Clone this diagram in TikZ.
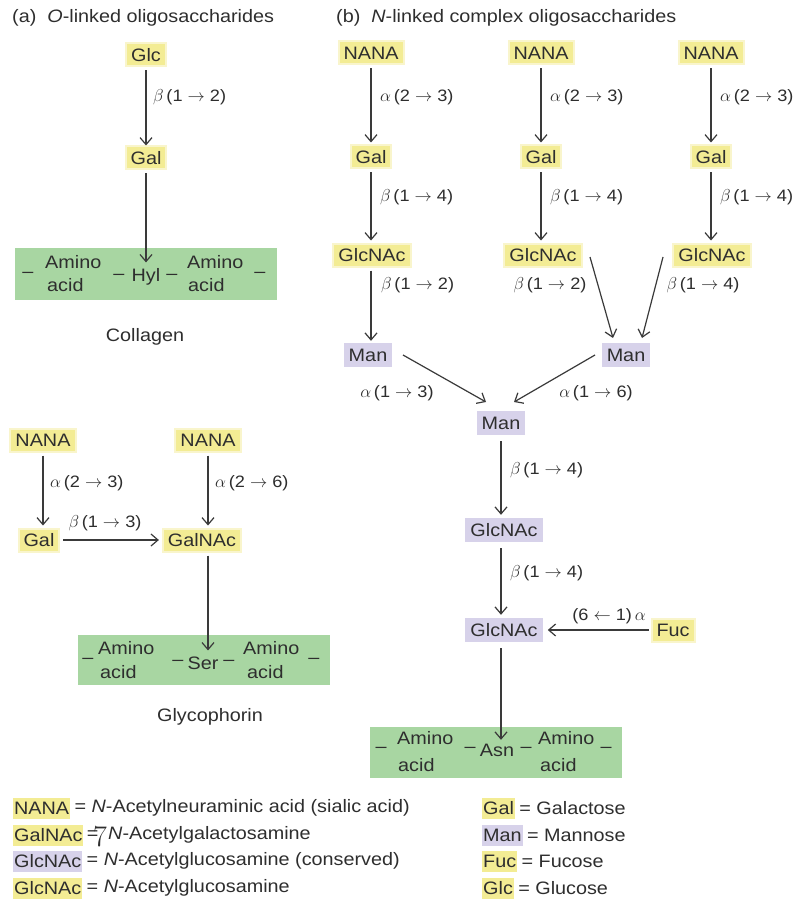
\documentclass[tikz,border=0pt]{standalone}
\usepackage{fontspec}
\setmainfont[FakeStretch=1.1]{Liberation Sans}
\usetikzlibrary{arrows.meta,calc}
\definecolor{yel}{HTML}{F3EC94}
\definecolor{yelglow}{HTML}{F9F5CC}
\definecolor{pur}{HTML}{D7D2EA}
\definecolor{grn}{HTML}{A8D6A2}
\definecolor{txt}{HTML}{2E2E2E}
\definecolor{linec}{HTML}{3A3A3A}
\newcommand{\mylink}[3]{$#1$\,(#2 $\rightarrow$ #3)}
\begin{document}
\begin{tikzpicture}[x=1pt,y=-1pt,
  pt/.style={font=\fontsize{18}{21}\selectfont, text=txt, inner sep=0pt},
  ttl/.style={font=\fontsize{18}{21}\selectfont, text=txt, inner sep=0pt},
  yel/.style={pt, fill=yel, draw=yelglow, line width=2pt, inner xsep=5pt, inner ysep=3pt, minimum height=23pt},
  pur/.style={pt, fill=pur, inner xsep=5pt, inner ysep=3pt, minimum height=24pt},
  lyel/.style={pt, fill=yel, inner xsep=1pt, inner ysep=2pt, minimum height=21pt},
  lpur/.style={pt, fill=pur, inner xsep=1pt, inner ysep=2pt, minimum height=21pt},
  lbl/.style={font=\fontsize{16.5}{19}\selectfont, text=txt, inner sep=0pt},
  arr/.style={draw=linec, line width=1.2pt, -{Straight Barb[length=7pt,width=12pt,line width=1.2pt]}},
  gbox/.style={fill=grn, inner sep=0pt}]
\fill[white] (0,0) rectangle (795,901);
\useasboundingbox (0,0) rectangle (795,901);

% titles
\node[ttl,anchor=west] (ta) at (12,18) {(a)\ \ \textit{O}-linked oligosaccharides};
\node[ttl,anchor=west] (tb) at (336,18) {(b)\ \ \textit{N}-linked complex oligosaccharides};

% ---------- (a) collagen ----------
\node[yel] (glc) at (146,55) {Glc};
\node[yel] (gal1) at (146,158) {Gal};
\draw[arr, shorten <=3pt] (glc.south) -- (gal1.north);
\node[lbl,anchor=west] (l1) at (153,97) {\mylink{\beta}{1}{2}};

\node[gbox, minimum width=262pt, minimum height=52pt] (pep1) at (146,274) {};
\node[pt] (d11) at (28,275) {–};
\node[pt,anchor=west] (a11) at (45,262) {Amino};
\node[pt,anchor=west] (c11) at (47,285) {acid};
\node[pt] (d12) at (119,277) {–};
\node[pt] (hyl) at (146,277) {Hyl};
\node[pt] (d13) at (172,277) {–};
\node[pt,anchor=west] (a12) at (187,262) {Amino};
\node[pt,anchor=west] (c12) at (188,285) {acid};
\node[pt] (d14) at (260,275) {–};
\draw[arr, shorten <=3pt] (gal1.south) -- ([yshift=6pt]hyl.north);
\node[pt] (coll) at (145,337) {Collagen};

% ---------- (a) glycophorin ----------
\node[yel] (nanaL) at (43,440) {NANA};
\node[yel] (nanaR) at (208,440) {NANA};
\node[yel] (galL) at (39,540) {Gal};
\node[yel] (galnac) at (202,540) {GalNAc};
\draw[arr, shorten <=3pt, shorten >=2pt] (nanaL.south) -- (nanaL.south |- galL.north);
\node[lbl,anchor=west] (l2) at (50,483) {\mylink{\alpha}{2}{3}};
\draw[arr, shorten <=3pt, shorten >=2pt] (nanaR.south) -- (nanaR.south |- galnac.north);
\node[lbl,anchor=west] (l3) at (215,483) {\mylink{\alpha}{2}{6}};
\draw[arr, shorten <=3pt, shorten >=3pt] (galL.east) -- (galnac.west);
\node[lbl] (l4) at (105,523) {\mylink{\beta}{1}{3}};

\node[gbox, minimum width=252pt, minimum height=50pt] (pep2) at (204,660) {};
\node[pt] (d21) at (88,661) {–};
\node[pt,anchor=west] (a21) at (98,648) {Amino};
\node[pt,anchor=west] (c21) at (100,672) {acid};
\node[pt] (d22) at (178,663) {–};
\node[pt] (ser) at (203,663) {Ser};
\node[pt] (d23) at (229,663) {–};
\node[pt,anchor=west] (a22) at (243,648) {Amino};
\node[pt,anchor=west] (c22) at (247,672) {acid};
\node[pt] (d24) at (314,661) {–};
\draw[arr, shorten <=3pt] (galnac.south -| nanaR.south) -- ([yshift=6pt]ser.north -| nanaR.south);
\node[pt] (glyco) at (210,717) {Glycophorin};

% ---------- (b) ----------
\node[yel] (n1) at (371,53) {NANA};
\node[yel] (n2) at (541,53) {NANA};
\node[yel] (n3) at (711,53) {NANA};
\node[yel] (g1) at (371,157) {Gal};
\node[yel] (g2) at (541,157) {Gal};
\node[yel] (g3) at (711,157) {Gal};
\node[yel] (gn1) at (372,255) {GlcNAc};
\node[yel] (gn2) at (543,255) {GlcNAc};
\node[yel] (gn3) at (712,255) {GlcNAc};
\foreach \i in {1,2,3}{
  \draw[arr, shorten <=3pt, shorten >=2pt] (n\i.south) -- (n\i.south |- g\i.north);
  \draw[arr, shorten <=3pt, shorten >=2pt] (g\i.south) -- (g\i.south |- gn\i.north);
}
\node[lbl,anchor=west] (la1) at (380,97) {\mylink{\alpha}{2}{3}};
\node[lbl,anchor=west] (la2) at (550,97) {\mylink{\alpha}{2}{3}};
\node[lbl,anchor=west] (la3) at (720,97) {\mylink{\alpha}{2}{3}};
\node[lbl,anchor=west] (lb1) at (380,197) {\mylink{\beta}{1}{4}};
\node[lbl,anchor=west] (lb2) at (550,197) {\mylink{\beta}{1}{4}};
\node[lbl,anchor=west] (lb3) at (720,197) {\mylink{\beta}{1}{4}};

\node[pur] (m1) at (368,355) {Man};
\node[pur] (m2) at (626,355) {Man};
\node[pur] (m3) at (501,423) {Man};
\draw[arr, shorten <=3pt, shorten >=2pt] (g1.south |- gn1.south) -- (g1.south |- m1.north);
\node[lbl,anchor=west] (lc1) at (381,285) {\mylink{\beta}{1}{2}};
\draw[arr] ($(gn2)+(47,2)$) -- ($(m2)+(-13,-17)$);
\node[lbl] (lc2) at (550,285) {\mylink{\beta}{1}{2}};
\draw[arr] ($(gn3)+(-49,2)$) -- ($(m2)+(16,-17)$);
\node[lbl] (lc3) at (703,285) {\mylink{\beta}{1}{4}};

\draw[arr] ($(m1)+(35,0)$) -- ($(m3)+(-15,-21)$);
\draw[arr] ($(m2)+(-31,0)$) -- ($(m3)+(13,-21)$);
\node[lbl] (ld1) at (397,393) {\mylink{\alpha}{1}{3}};
\node[lbl] (ld2) at (596,393) {\mylink{\alpha}{1}{6}};

\node[pur] (gp1) at (504,530) {GlcNAc};
\node[pur] (gp2) at (504,630) {GlcNAc};
\draw[arr, shorten <=6pt, shorten >=3pt] (m3.south) -- (m3.south |- gp1.north);
\node[lbl,anchor=west] (le1) at (510,470) {\mylink{\beta}{1}{4}};
\draw[arr, shorten <=6pt, shorten >=3pt] (m3.south |- gp1.south) -- (m3.south |- gp2.north);
\node[lbl,anchor=west] (le2) at (510,573) {\mylink{\beta}{1}{4}};
\node[yel] (fuc) at (673,630) {Fuc};
\draw[arr, shorten <=2pt, shorten >=5pt] (fuc.west) -- (gp2.east);
\node[lbl] (lf) at (609,616) {(6 $\leftarrow$ 1)\,$\alpha$};

\node[gbox, minimum width=252pt, minimum height=51pt] (pep3) at (496,752.5) {};
\node[pt] (d31) at (381,750) {–};
\node[pt,anchor=west] (a31) at (397,738) {Amino};
\node[pt,anchor=west] (c31) at (398,765) {acid};
\node[pt] (d32) at (470,750) {–};
\node[pt] (asn) at (497,750) {Asn};
\node[pt] (d33) at (526,750) {–};
\node[pt,anchor=west] (a32) at (538,738) {Amino};
\node[pt,anchor=west] (c32) at (540,765) {acid};
\node[pt] (d34) at (606,750) {–};
\draw[arr, shorten <=6pt] (m3.south |- gp2.south) -- (m3.south |- pep3.north) -- ++(0,13);

% ---------- legend ----------
\node[lyel,anchor=west] (k1) at (13,808) {NANA};
\node[pt,anchor=west] (k1t) at ([xshift=4pt]k1.east) {= \textit{N}-Acetylneuraminic acid (sialic acid)};
\node[lyel,anchor=west] (k2) at (13,835) {GalNAc};
\node[pt,anchor=west] (k2e) at ([xshift=3pt]k2.east) {=};
\node[text=txt, inner sep=0pt, font=\fontfamily{lmr}\fontsize{30}{30}\selectfont] (seven) at (100,837) {7};
\node[pt,anchor=west] (k2t) at (108,835) {\textit{N}-Acetylgalactosamine};
\node[lpur,anchor=west] (k3) at (13,861) {GlcNAc};
\node[pt,anchor=west] (k3t) at ([xshift=4pt]k3.east) {= \textit{N}-Acetylglucosamine (conserved)};
\node[lyel,anchor=west] (k4) at (13,888) {GlcNAc};
\node[pt,anchor=west] (k4t) at ([xshift=4pt]k4.east) {= \textit{N}-Acetylglucosamine};

\node[lyel,anchor=west] (r1) at (482,808) {Gal};
\node[pt,anchor=west] (r1t) at ([xshift=4pt]r1.east) {= Galactose};
\node[lpur,anchor=west] (r2) at (482,835) {Man};
\node[pt,anchor=west] (r2t) at ([xshift=4pt]r2.east) {= Mannose};
\node[lyel,anchor=west] (r3) at (482,861) {Fuc};
\node[pt,anchor=west] (r3t) at ([xshift=4pt]r3.east) {= Fucose};
\node[lyel,anchor=west] (r4) at (482,888) {Glc};
\node[pt,anchor=west] (r4t) at ([xshift=4pt]r4.east) {= Glucose};
\end{tikzpicture}
\end{document}
